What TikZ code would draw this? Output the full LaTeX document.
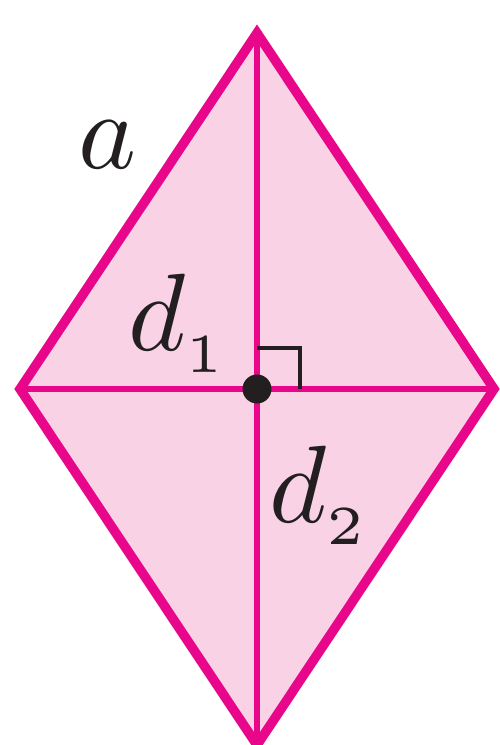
\documentclass[tikz,border=0pt]{standalone}
\definecolor{mag}{HTML}{E8078A}
\definecolor{pinkfill}{HTML}{F9D3E5}
\definecolor{ink}{HTML}{231F20}
\newcommand{\lowsub}[1]{\raisebox{-0.5pt}{$\scriptscriptstyle #1$}}
\tikzset{
  rfill/.style={fill=pinkfill},
  edge/.style={draw=mag,line width=9.5pt,line join=miter},
  diag/.style={draw=mag,line width=5.5pt},
  rightmark/.style={draw=ink,line width=4pt,line join=miter},
  lbl/.style={text=ink,inner sep=0pt,anchor=base west,scale=11},
}
\begin{document}
\begin{tikzpicture}[x=1pt,y=-1pt]
\useasboundingbox (0,0) rectangle (500,745);
\coordinate (T) at (257,33);
\coordinate (L) at (20,389);
\coordinate (R) at (494,389);
\coordinate (B) at (257,745);
\coordinate (O) at (257,389);
\coordinate (M1) at (257,348);
\coordinate (M2) at (300,348);
\coordinate (M3) at (300,389);
\fill[rfill] (T) -- (R) -- (B) -- (L) -- cycle;
\draw[diag] (T) -- (B);
\draw[diag] (L) -- (R);
\draw[edge] (T) -- (R) -- (B) -- (L) -- cycle;
\draw[rightmark] (M1) -- (M2) -- (M3);
\node[circle,fill=ink,minimum size=29pt,inner sep=0pt] (dot) at (O) {};
\node[lbl] (a) at (76,168) {$a$};
\node[lbl] (d1) at (126,350) {$d_{\lowsub{1}}$};
\node[lbl] (d2) at (267,522) {$d_{\lowsub{2}}$};
\end{tikzpicture}
\end{document}
